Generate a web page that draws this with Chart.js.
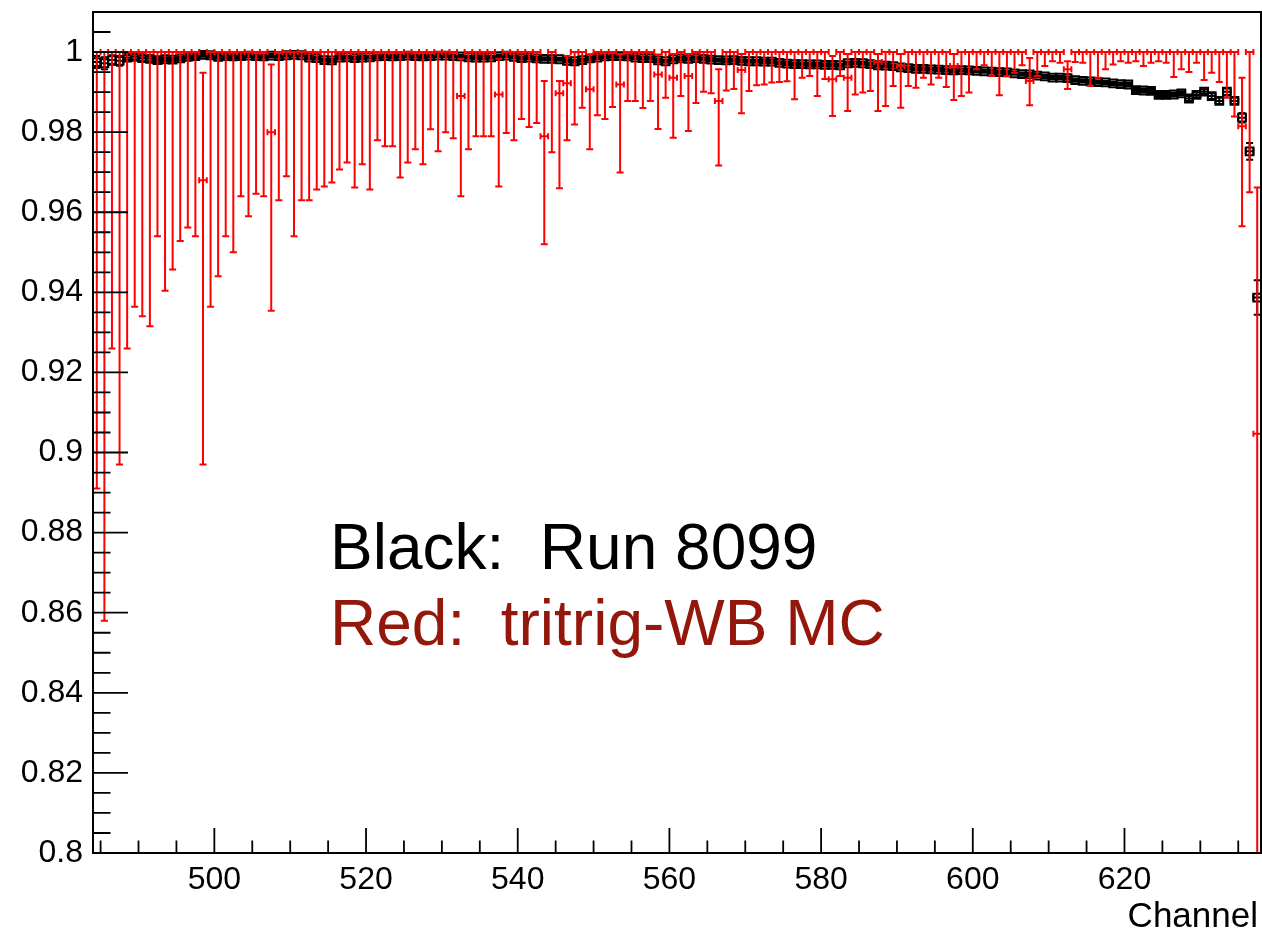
<!DOCTYPE html>
<html>
<head>
<meta charset="utf-8">
<script src="https://cdn.jsdelivr.net/npm/chart.js@4.4.1/dist/chart.umd.min.js"></script>
<style>
  html, body { margin: 0; padding: 0; background: #fff; }
</style>
</head>
<body>
<canvas id="chart" width="1262" height="931"></canvas>
<script>
// channel (bin low edge), one bin per channel
const channels = [
  484, 485, 486, 487, 488, 489, 490, 491, 492, 493,
  494, 495, 496, 497, 498, 499, 500, 501, 502, 503,
  504, 505, 506, 507, 508, 509, 510, 511, 512, 513,
  514, 515, 516, 517, 518, 519, 520, 521, 522, 523,
  524, 525, 526, 527, 528, 529, 530, 531, 532, 533,
  534, 535, 536, 537, 538, 539, 540, 541, 542, 543,
  544, 545, 546, 547, 548, 549, 550, 551, 552, 553,
  554, 555, 556, 557, 558, 559, 560, 561, 562, 563,
  564, 565, 566, 567, 568, 569, 570, 571, 572, 573,
  574, 575, 576, 577, 578, 579, 580, 581, 582, 583,
  584, 585, 586, 587, 588, 589, 590, 591, 592, 593,
  594, 595, 596, 597, 598, 599, 600, 601, 602, 603,
  604, 605, 606, 607, 608, 609, 610, 611, 612, 613,
  614, 615, 616, 617, 618, 619, 620, 621, 622, 623,
  624, 625, 626, 627, 628, 629, 630, 631, 632, 633,
  634, 635, 636, 637
];

// Black: Run 8099
const blackValue = [
  0.9975, 0.9972, 0.9980, 0.9978, 0.9986, 0.9988, 0.9985, 0.9983, 0.9980, 0.9982,
  0.9981, 0.9984, 0.9988, 0.9990, 0.9993, 0.9992, 0.9988, 0.9990, 0.9989, 0.9990,
  0.9991, 0.9990, 0.9989, 0.9991, 0.9990, 0.9992, 0.9993, 0.9992, 0.9986, 0.9985,
  0.9980, 0.9979, 0.9986, 0.9987, 0.9985, 0.9986, 0.9987, 0.9989, 0.9990, 0.9989,
  0.9990, 0.9991, 0.9990, 0.9989, 0.9990, 0.9991, 0.9991, 0.9990, 0.9989, 0.9987,
  0.9986, 0.9986, 0.9987, 0.9990, 0.9991, 0.9988, 0.9985, 0.9986, 0.9984, 0.9983,
  0.9983, 0.9982, 0.9978, 0.9977, 0.9980, 0.9984, 0.9986, 0.9989, 0.9990, 0.9990,
  0.9989, 0.9986, 0.9985, 0.9985, 0.9979, 0.9977, 0.9982, 0.9984, 0.9983, 0.9985,
  0.9983, 0.9981, 0.9980, 0.9979, 0.9980, 0.9978, 0.9977, 0.9977, 0.9976, 0.9976,
  0.9973, 0.9971, 0.9970, 0.9970, 0.9969, 0.9969, 0.9968, 0.9968, 0.9967, 0.9972,
  0.9973, 0.9972, 0.9970, 0.9967, 0.9966, 0.9965, 0.9962, 0.9960, 0.9958, 0.9958,
  0.9957, 0.9956, 0.9955, 0.9954, 0.9955, 0.9954, 0.9953, 0.9952, 0.9951, 0.9950,
  0.9949, 0.9947, 0.9945, 0.9944, 0.9941, 0.9939, 0.9936, 0.9936, 0.9935, 0.9930,
  0.9928, 0.9927, 0.9925, 0.9924, 0.9922, 0.9920, 0.9919, 0.9905, 0.9904, 0.9903,
  0.9893, 0.9893, 0.9894, 0.9897, 0.9884, 0.9893, 0.9901, 0.9890, 0.9878, 0.9901,
  0.9878, 0.9836, 0.9752, 0.9387
];
const blackError = [
  0.0015, 0.0015, 0.0012, 0.0012, 0.0006, 0.0006, 0.0006, 0.0006, 0.0005, 0.0005,
  0.0005, 0.0005, 0.0005, 0.0005, 0.0005, 0.0005, 0.0005, 0.0005, 0.0005, 0.0005,
  0.0004, 0.0004, 0.0004, 0.0004, 0.0004, 0.0004, 0.0004, 0.0004, 0.0004, 0.0004,
  0.0004, 0.0004, 0.0004, 0.0004, 0.0004, 0.0004, 0.0004, 0.0004, 0.0004, 0.0004,
  0.0004, 0.0004, 0.0004, 0.0004, 0.0004, 0.0004, 0.0004, 0.0004, 0.0004, 0.0004,
  0.0004, 0.0004, 0.0004, 0.0004, 0.0004, 0.0004, 0.0004, 0.0004, 0.0004, 0.0004,
  0.0004, 0.0004, 0.0004, 0.0004, 0.0004, 0.0004, 0.0004, 0.0004, 0.0004, 0.0004,
  0.0004, 0.0004, 0.0004, 0.0004, 0.0004, 0.0004, 0.0004, 0.0004, 0.0004, 0.0004,
  0.0004, 0.0004, 0.0004, 0.0004, 0.0004, 0.0004, 0.0004, 0.0004, 0.0004, 0.0004,
  0.0004, 0.0004, 0.0004, 0.0004, 0.0004, 0.0004, 0.0004, 0.0004, 0.0004, 0.0004,
  0.0004, 0.0004, 0.0004, 0.0004, 0.0004, 0.0004, 0.0004, 0.0004, 0.0004, 0.0004,
  0.0004, 0.0004, 0.0004, 0.0004, 0.0004, 0.0004, 0.0004, 0.0004, 0.0004, 0.0004,
  0.0004, 0.0004, 0.0004, 0.0004, 0.0004, 0.0004, 0.0004, 0.0004, 0.0004, 0.0004,
  0.0004, 0.0004, 0.0004, 0.0004, 0.0004, 0.0004, 0.0005, 0.0005, 0.0005, 0.0005,
  0.0005, 0.0005, 0.0005, 0.0005, 0.0006, 0.0006, 0.0006, 0.0007, 0.0008, 0.0008,
  0.0008, 0.0012, 0.0021, 0.0043
];

// Red: tritrig-WB MC (asymmetric errors: low / high ends)
const redValue = [
  1, 1, 1, 1, 1, 1, 1, 1, 1, 1,
  1, 1, 1, 1, 0.968, 1, 1, 1, 1, 1,
  1, 1, 1, 0.980, 1, 1, 1, 1, 1, 1,
  1, 1, 1, 1, 1, 1, 1, 1, 1, 1,
  1, 1, 1, 1, 1, 1, 1, 1, 0.989, 1,
  1, 1, 1, 0.9894, 1, 1, 1, 1, 1, 0.979,
  1, 0.9897, 0.9922, 1, 1, 0.9907, 1, 1, 1, 0.9919,
  1, 1, 1, 1, 0.9944, 1, 0.9936, 1, 0.994, 1,
  1, 1, 0.9878, 1, 1, 0.9955, 1, 1, 1, 1,
  1, 1, 1, 1, 1, 1, 1, 0.9932, 1, 0.9936,
  1, 1, 1, 0.9975, 1, 1, 0.9965, 1, 1, 1,
  1, 1, 1, 0.9965, 1, 1, 1, 1, 1, 1,
  1, 1, 1, 0.9928, 1, 1, 1, 1, 0.9957, 1,
  1, 1, 1, 1, 1, 1, 1, 1, 1, 1,
  1, 1, 1, 1, 1, 1, 1, 1, 1, 1,
  1, 0.9815, 1, 0.9047
];
const redLow = [
  0.891, 0.858, 0.926, 0.897, 0.926, 0.9364, 0.934, 0.9315, 0.954, 0.9404,
  0.9457, 0.9528, 0.9562, 0.954, 0.897, 0.9364, 0.944, 0.954, 0.950, 0.964,
  0.959, 0.9646, 0.964, 0.9354, 0.963, 0.969, 0.954, 0.963, 0.963, 0.9657,
  0.9664, 0.9674, 0.9707, 0.9724, 0.9662, 0.9720, 0.9657, 0.978, 0.9765, 0.9765,
  0.9687, 0.9724, 0.9757, 0.9720, 0.9807, 0.9752, 0.9800, 0.9785, 0.964, 0.9757,
  0.979, 0.979, 0.979, 0.9664, 0.9798, 0.978, 0.9833, 0.9813, 0.9823, 0.952,
  0.9750, 0.966, 0.978, 0.9819, 0.9861, 0.9757, 0.9842, 0.9833, 0.9863, 0.9699,
  0.9878, 0.9878, 0.986, 0.9878, 0.9808, 0.9886, 0.9786, 0.989, 0.9803, 0.9873,
  0.9901, 0.9897, 0.9717, 0.9904, 0.9908, 0.9847, 0.9903, 0.9917, 0.9919, 0.9924,
  0.9925, 0.9927, 0.9882, 0.9936, 0.994, 0.989, 0.9933, 0.984, 0.994, 0.9853,
  0.9894, 0.9899, 0.9903, 0.9853, 0.9865, 0.9915, 0.9861, 0.9915, 0.9911, 0.9936,
  0.9919, 0.9936, 0.9913, 0.988, 0.989, 0.9899, 0.9957, 0.9967, 0.994, 0.9892,
  0.994, 0.9948, 0.9967, 0.9867, 0.994, 0.9965, 0.9977, 0.9973, 0.9908, 0.9975,
  0.9973, 0.9915, 0.9936, 0.9957, 0.9969, 0.9977, 0.9973, 0.9977, 0.9965, 0.9973,
  0.9977, 0.9973, 0.9938, 0.9957, 0.995, 0.9973, 0.993, 0.9948, 0.9925, 0.9886,
  0.9839, 0.9565, 0.965, 0.70
];
const redHigh = [
  1, 1, 1, 1, 1, 1, 1, 1, 1, 1,
  1, 1, 1, 1, 0.9948, 1, 1, 1, 1, 1,
  1, 1, 1, 0.9969, 1, 1, 1, 1, 1, 1,
  1, 1, 1, 1, 1, 1, 1, 1, 1, 1,
  1, 1, 1, 1, 1, 1, 1, 1, 0.9983, 1,
  1, 1, 1, 0.9983, 1, 1, 1, 1, 1, 0.9928,
  1, 0.9928, 0.999, 1, 1, 0.9994, 1, 1, 1, 0.9994,
  1, 1, 1, 1, 0.9994, 1, 0.9995, 1, 0.9995, 1,
  1, 1, 0.9957, 1, 1, 0.9995, 1, 1, 1, 1,
  1, 1, 1, 1, 1, 1, 1, 0.999, 1, 0.9995,
  1, 1, 1, 0.9995, 1, 1, 0.9995, 1, 1, 1,
  1, 1, 1, 0.9995, 1, 1, 1, 1, 1, 1,
  1, 1, 1, 0.9985, 1, 1, 1, 1, 0.9977, 1,
  1, 1, 1, 1, 1, 1, 1, 1, 1, 1,
  1, 1, 1, 1, 1, 1, 1, 1, 1, 1,
  1, 0.9936, 1, 0.9662
];

const xMin = 484, xMax = 638;
const yMin = 0.8, yMax = 1.01;

function drawErrors(chart, color, lows, vals, highs, width) {
  const { ctx, scales: { x, y } } = chart;
  ctx.save();
  ctx.strokeStyle = color;
  ctx.lineWidth = width;
  ctx.beginPath();
  channels.forEach((ch, i) => {
    const xc = x.getPixelForValue(ch + 0.5);
    const xl = x.getPixelForValue(ch);
    const xr = x.getPixelForValue(ch + 1);
    const yv = y.getPixelForValue(vals[i]);
    const yl = y.getPixelForValue(lows[i]);
    const yh = y.getPixelForValue(highs[i]);
    // horizontal (bin width) with end ticks
    ctx.moveTo(xl, yv); ctx.lineTo(xr, yv);
    ctx.moveTo(xl, yv - 3); ctx.lineTo(xl, yv + 3);
    ctx.moveTo(xr, yv - 3); ctx.lineTo(xr, yv + 3);
    // vertical with caps
    if (Math.abs(yl - yv) > 0.5) {
      ctx.moveTo(xc, yv); ctx.lineTo(xc, yl);
      ctx.moveTo(xc - 3.5, yl); ctx.lineTo(xc + 3.5, yl);
    }
    if (Math.abs(yh - yv) > 0.5) {
      ctx.moveTo(xc, yv); ctx.lineTo(xc, yh);
      ctx.moveTo(xc - 3.5, yh); ctx.lineTo(xc + 3.5, yh);
    }
  });
  ctx.stroke();
  ctx.restore();
}

const rootStyle = {
  id: 'rootStyle',
  beforeDatasetsDraw(chart) {
    const { ctx, chartArea: a } = chart;
    ctx.save();
    ctx.beginPath();
    ctx.rect(a.left, a.top, a.right - a.left, a.bottom - a.top);
    ctx.clip();
    drawErrors(chart, '#000', blackValue.map((v, i) => v - blackError[i]), blackValue,
      blackValue.map((v, i) => v + blackError[i]), 2);
    ctx.restore();
  },
  afterDatasetsDraw(chart) {
    const { ctx, chartArea: a, scales: { x, y } } = chart;
    ctx.save();
    ctx.beginPath();
    ctx.rect(a.left, a.top, a.right - a.left, a.bottom - a.top);
    ctx.clip();
    drawErrors(chart, '#ff0000', redLow, redValue, redHigh, 2);
    ctx.restore();

    // frame and inward ticks
    ctx.save();
    ctx.strokeStyle = '#000';
    ctx.lineWidth = 2;
    ctx.strokeRect(a.left, a.top, a.right - a.left, a.bottom - a.top);
    ctx.lineWidth = 1.8;
    ctx.beginPath();
    for (let k = 0; k <= 42; k++) {
      const v = yMin + k * 0.005;
      const py = y.getPixelForValue(v);
      const len = (k % 4 === 0) ? 35 : 17.5;
      ctx.moveTo(a.left, py); ctx.lineTo(a.left + len, py);
    }
    for (let c = 485; c < xMax; c += 5) {
      const px = x.getPixelForValue(c);
      const len = (c % 20 === 0) ? 25 : 12.5;
      ctx.moveTo(px, a.bottom); ctx.lineTo(px, a.bottom - len);
    }
    ctx.stroke();

    // axis title and labels
    ctx.fillStyle = '#000';
    ctx.font = '35px "Liberation Sans", Arial, sans-serif';
    ctx.textAlign = 'right';
    ctx.textBaseline = 'alphabetic';
    ctx.fillText('Channel', 1258, 927);

    ctx.textAlign = 'left';
    ctx.font = '64px "Liberation Sans", Arial, sans-serif';
    ctx.fillStyle = '#000';
    ctx.fillText('Black:  Run 8099', 330, 569);
    ctx.fillStyle = '#93170b';
    ctx.fillText('Red:  tritrig-WB MC', 330, 645);
    ctx.restore();
  }
};

new Chart(document.getElementById('chart'), {
  type: 'scatter',
  data: {
    datasets: [
      {
        label: 'Run 8099',
        data: channels.map((ch, i) => ({ x: ch + 0.5, y: blackValue[i] })),
        pointStyle: 'rect',
        pointRadius: 5.5,
        borderColor: '#000',
        backgroundColor: 'rgba(0,0,0,0)',
        borderWidth: 2,
        showLine: false
      },
      {
        label: 'tritrig-WB MC',
        data: channels.map((ch, i) => ({ x: ch + 0.5, y: redValue[i] })),
        pointRadius: 0,
        showLine: false
      }
    ]
  },
  options: {
    responsive: false,
    animation: false,
    layout: { autoPadding: false, padding: { top: 12, right: 1, left: 0, bottom: 0 } },
    plugins: { legend: { display: false }, tooltip: { enabled: false } },
    scales: {
      x: {
        type: 'linear', min: xMin, max: xMax,
        grid: { display: false, drawTicks: false },
        border: { display: false },
        ticks: {
          stepSize: 20, includeBounds: false, maxRotation: 0, autoSkip: false,
          color: '#000', padding: 8,
          font: { family: '"Liberation Sans", Arial, sans-serif', size: 32 }
        },
        afterFit(s) { s.height = 78; s.paddingLeft = 0; s.paddingRight = 0; }
      },
      y: {
        min: yMin, max: yMax,
        grid: { display: false, drawTicks: false },
        border: { display: false },
        ticks: {
          stepSize: 0.02, includeBounds: false, color: '#000', padding: 10,
          font: { family: '"Liberation Sans", Arial, sans-serif', size: 32 },
          callback: v => String(+v.toFixed(2))
        },
        afterFit(s) { s.width = 93; s.paddingTop = 0; s.paddingBottom = 0; }
      }
    }
  },
  plugins: [rootStyle]
});
</script>
</body>
</html>
